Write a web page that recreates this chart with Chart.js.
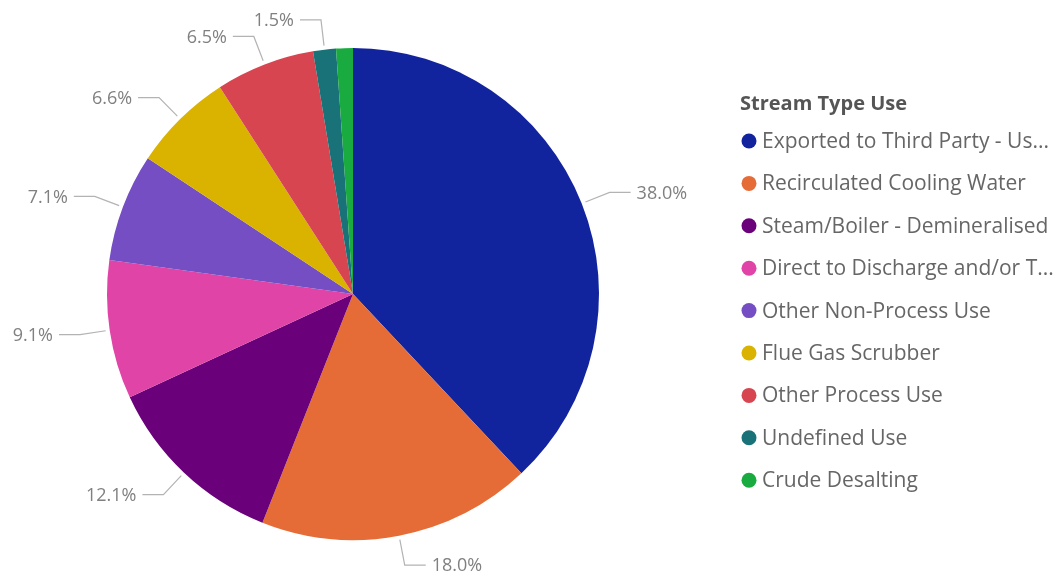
<!DOCTYPE html>
<html lang="en">
<head>
    <meta charset="UTF-8">
    <title>Stream Type Use</title>
    <script src="https://cdn.jsdelivr.net/npm/chart.js"></script>
    <style>
        body { margin: 0; background: #fff; }
        .chart-box { width: 1056px; height: 582px; position: relative; }
    </style>
</head>
<body>
    <div class="chart-box">
        <canvas id="pieChart"></canvas>
    </div>

    <script>
        // Data
        var legendTitle = 'Stream Type Use';
        var streamTypes = [
            'Exported to Third Party - Us...',
            'Recirculated Cooling Water',
            'Steam/Boiler - Demineralised',
            'Direct to Discharge and/or T...',
            'Other Non-Process Use',
            'Flue Gas Scrubber',
            'Other Process Use',
            'Undefined Use',
            'Crude Desalting'
        ];
        var shares = [38.0, 18.0, 12.1, 9.1, 7.1, 6.6, 6.5, 1.5, 1.1];
        var sliceColors = ['#12239E', '#E66C37', '#6B007B', '#E044A7', '#744EC2', '#D9B300', '#D64550', '#197278', '#1AAB40'];

        var fontFamily = '"Open Sans", "Noto Sans", sans-serif';

        // Outside labels with Power BI style leader lines
        var leaderLabels = {
            id: 'leaderLabels',
            afterDatasetsDraw: function (chart) {
                var ctx = chart.ctx;
                var meta = chart.getDatasetMeta(0);
                var values = chart.data.datasets[0].data;
                var total = values.reduce(function (a, b) { return a + b; }, 0);
                ctx.save();
                ctx.font = '18px ' + fontFamily;
                ctx.textBaseline = 'middle';
                meta.data.forEach(function (arc, i) {
                    var pct = values[i] / total * 100;
                    if (pct < 1.2) return; // too thin, label hidden in the original
                    var mid = (arc.startAngle + arc.endAngle) / 2;
                    var r = arc.outerRadius;
                    var x0 = arc.x + Math.cos(mid) * (r + 4);
                    var y0 = arc.y + Math.sin(mid) * (r + 4);
                    var x1 = arc.x + Math.cos(mid) * (r + 30);
                    var y1 = arc.y + Math.sin(mid) * (r + 30);
                    var right = Math.cos(mid) >= 0;
                    var x2 = right ? x1 + 21 : x1 - 21;

                    ctx.strokeStyle = '#b3b3b3';
                    ctx.lineWidth = 1.2;
                    ctx.beginPath();
                    ctx.moveTo(x0, y0);
                    ctx.lineTo(x1, y1);
                    ctx.lineTo(x2, y1);
                    ctx.stroke();

                    ctx.fillStyle = '#808080';
                    ctx.textAlign = right ? 'left' : 'right';
                    ctx.fillText(pct.toFixed(1) + '%', right ? x2 + 6 : x2 - 6, y1 + 1);
                });
                ctx.restore();
            }
        };

        // Legend on the right, drawn by hand to place it like the original
        var sideLegend = {
            id: 'sideLegend',
            afterDraw: function (chart) {
                var ctx = chart.ctx;
                var ds = chart.data.datasets[0];
                ctx.save();
                ctx.textBaseline = 'middle';
                ctx.textAlign = 'left';
                ctx.fillStyle = '#555555';
                ctx.font = 'bold 20px ' + fontFamily;
                ctx.fillText(legendTitle, 740, 104);

                ctx.font = '21px ' + fontFamily;
                chart.data.labels.forEach(function (label, i) {
                    var y = 141 + i * 42.4;
                    ctx.fillStyle = ds.backgroundColor[i];
                    ctx.beginPath();
                    ctx.arc(749, y, 7.5, 0, Math.PI * 2);
                    ctx.fill();
                    ctx.fillStyle = '#666666';
                    ctx.fillText(label, 762, y + 1);
                });
                ctx.restore();
            }
        };

        var pieChart = new Chart(document.getElementById('pieChart'), {
            type: 'pie',
            data: {
                labels: streamTypes,
                datasets: [{
                    data: shares,
                    backgroundColor: sliceColors,
                    borderWidth: 0
                }]
            },
            options: {
                responsive: true,
                maintainAspectRatio: false,
                animation: false,
                layout: {
                    padding: { left: 107, right: 457, top: 48, bottom: 42 }
                },
                plugins: {
                    legend: { display: false },
                    tooltip: { enabled: false }
                }
            },
            plugins: [leaderLabels, sideLegend]
        });
    </script>
</body>
</html>
